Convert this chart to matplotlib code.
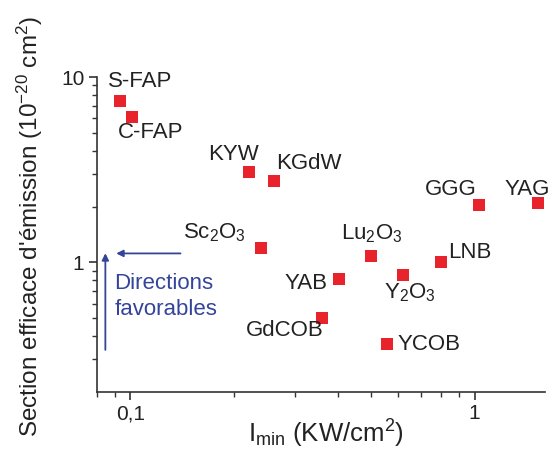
import matplotlib
matplotlib.use("Agg")
import matplotlib.pyplot as plt
from matplotlib.ticker import FixedLocator, FixedFormatter, NullFormatter

plt.rcParams['font.family'] = ['Liberation Sans', 'DejaVu Sans']
plt.rcParams['mathtext.fontset'] = 'custom'
plt.rcParams['mathtext.rm'] = 'Liberation Sans'
plt.rcParams['mathtext.it'] = 'Liberation Sans'

# crystals: minimum pump intensity (kW/cm2) and emission cross-section (1e-20 cm2)
crystals = ['S-FAP', 'C-FAP', 'KYW', 'KGdW', 'GGG', 'YAG', 'Sc$_2$O$_3$',
            'Lu$_2$O$_3$', 'LNB', 'Y$_2$O$_3$', 'YAB', 'GdCOB', 'YCOB']
i_min = [0.093, 0.101, 0.221, 0.261, 1.03, 1.53, 0.240,
         0.50, 0.80, 0.62, 0.403, 0.360, 0.556]
sigma = [7.4, 6.1, 3.07, 2.74, 2.03, 2.08, 1.2,
         1.08, 1.01, 0.86, 0.81, 0.50, 0.365]
# label offsets in pixels (dx, dy) and alignment
offs = [(-12, 20, 'left'), (-14, -16, 'left'), (-15, 18, 'center'),
        (2, 18, 'left'), (-2, 16, 'right'), (-11, 14, 'center'),
        (-15, 15, 'right'), (1, 23, 'center'), (7, 9, 'left'),
        (7, -18, 'center'), (-11, -4, 'right'), (2, -12, 'right'),
        (11, -1, 'left')]

xticks = [0.1, 1]
xticklabels = ['0,1', '1']
yticks = [1, 10]
yticklabels = ['1', '10']

txt = '#222222'
blue = '#34449a'

fig = plt.figure(figsize=(5.53, 4.53), dpi=100)
ax = fig.add_axes([0.1754, 0.1347, 0.81, 0.6953])

ax.plot(i_min, sigma, 's', color='#e8232b', markersize=8, markeredgewidth=0, clip_on=False)

for name, x, y, (dx, dy, ha) in zip(crystals, i_min, sigma, offs):
    ax.annotate(name, (x, y), xytext=(dx, dy), textcoords='offset pixels',
                ha=ha, va='center', fontsize=16, color=txt)

ax.set_xscale('log')
ax.set_yscale('log')
ax.set_xlim(0.08, 1.6)
ax.set_ylim(0.2, 10)

ax.xaxis.set_major_locator(FixedLocator(xticks))
ax.xaxis.set_major_formatter(FixedFormatter(xticklabels))
ax.xaxis.set_minor_locator(FixedLocator([0.08, 0.09] + [k / 10 for k in range(2, 10)]))
ax.xaxis.set_minor_formatter(NullFormatter())
ax.yaxis.set_major_locator(FixedLocator(yticks))
ax.yaxis.set_major_formatter(FixedFormatter(yticklabels))
ax.yaxis.set_minor_locator(FixedLocator([k / 10 for k in range(3, 10)] + list(range(2, 10))))
ax.yaxis.set_minor_formatter(NullFormatter())

for s in ['top', 'right']:
    ax.spines[s].set_visible(False)
for s in ['left', 'bottom']:
    ax.spines[s].set_linewidth(1.2)
    ax.spines[s].set_color('#333333')
ax.tick_params(which='major', length=6, width=1.2, color='#333333', labelsize=15,
               labelcolor=txt, direction='out', pad=3)
ax.tick_params(which='minor', length=3.5, width=1.0, color='#333333', direction='out')

fig.text(0.589, 1 - 443 / 453, 'I$_{\\mathrm{min}}$ (KW/cm$^2$)', fontsize=18.5,
         color=txt, ha='center', va='baseline')
fig.text(0.054, 0.499, "Section efficace d'émission (10$^{-20}$ cm$^2$)", fontsize=17.5,
         color=txt, ha='center', va='center', rotation=90)

# "favourable directions" arrows
ax.annotate('', xy=(0.0893, 1.118), xytext=(0.1425, 1.118),
            arrowprops=dict(arrowstyle='-|>', color=blue, lw=1.3, mutation_scale=10))
ax.annotate('', xy=(0.0846, 1.16), xytext=(0.0846, 0.326),
            arrowprops=dict(arrowstyle='-|>', color=blue, lw=1.3, mutation_scale=10))
ax.text(0.0899, 0.655, 'Directions\nfavorables', color=blue, fontsize=16,
        ha='left', va='center', linespacing=1.3)

fig.savefig('out.png', dpi=100)
